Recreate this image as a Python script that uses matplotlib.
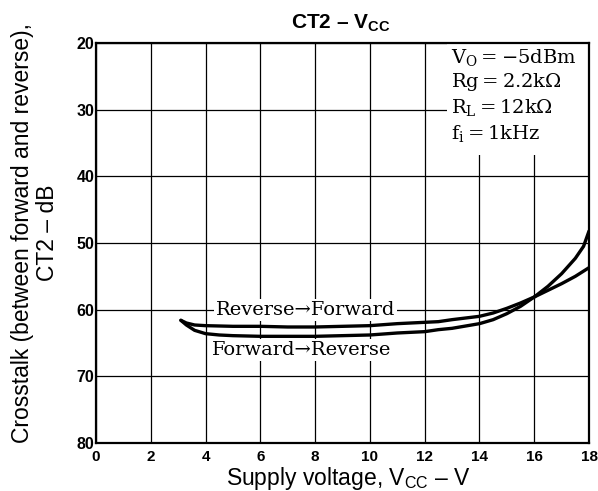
import matplotlib
matplotlib.use("Agg")
import matplotlib.pyplot as plt

plt.rcParams['font.family'] = ['Liberation Sans', 'DejaVu Sans']
plt.rcParams['mathtext.fontset'] = 'custom'
plt.rcParams['mathtext.rm'] = 'Liberation Sans'
plt.rcParams['mathtext.bf'] = 'Liberation Sans:bold'
plt.rcParams['mathtext.sf'] = 'DejaVu Serif'

# Supply voltage (V) and crosstalk (dB) for each direction
vcc_rev_fwd = [3.1, 3.3, 3.6, 4.0, 5, 6, 7, 8, 9, 10, 11, 12, 12.5, 13, 14,
               14.5, 15, 15.5, 16, 16.5, 17, 17.5, 18]
ct2_rev_fwd = [61.6, 62.0, 62.3, 62.4, 62.5, 62.5, 62.6, 62.6, 62.5, 62.4,
               62.1, 61.9, 61.8, 61.5, 61.0, 60.5, 59.8, 59.0, 58.1, 57.1,
               56.1, 55.0, 53.7]

vcc_fwd_rev = [3.1, 3.3, 3.6, 4.0, 4.5, 5, 6, 7, 8, 9, 10, 11, 12, 12.5, 13,
               14, 14.5, 15, 15.5, 16, 16.5, 17, 17.5, 17.8, 18]
ct2_fwd_rev = [61.6, 62.3, 63.1, 63.6, 63.8, 63.9, 64.0, 64.0, 64.0, 63.9,
               63.8, 63.5, 63.3, 63.0, 62.8, 62.1, 61.5, 60.6, 59.5, 58.1,
               56.5, 54.6, 52.3, 50.5, 48.2]

x_ticks = [0, 2, 4, 6, 8, 10, 12, 14, 16, 18]
y_ticks = [20, 30, 40, 50, 60, 70, 80]

conditions = [r'$\mathsf{V_O = -5dBm}$',
              r'$\mathsf{Rg = 2.2k\Omega}$',
              r'$\mathsf{R_L = 12k\Omega}$',
              r'$\mathsf{f_i = 1kHz}$']

fig = plt.figure(figsize=(5.98, 4.91), dpi=100)
ax = fig.add_axes([0.1605, 0.0978, 0.8245, 0.8146])

ax.set_xlim(0, 18)
ax.set_ylim(80, 20)
ax.set_xticks(x_ticks)
ax.set_yticks(y_ticks)
ax.set_xticklabels([str(v) for v in x_ticks], fontsize=11, fontweight='bold')
ax.set_yticklabels([str(v) for v in y_ticks], fontsize=11.5, fontweight='bold')
ax.tick_params(length=0)
ax.tick_params(axis='x', pad=5)
ax.tick_params(axis='y', pad=1)
ax.grid(True, color='black', linewidth=0.9)
ax.set_axisbelow(True)
for s in ax.spines.values():
    s.set_linewidth(1.6)
    s.set_color('black')

ax.plot(vcc_rev_fwd, ct2_rev_fwd, color='black', linewidth=2.4,
        solid_capstyle='round', solid_joinstyle='round')
ax.plot(vcc_fwd_rev, ct2_fwd_rev, color='black', linewidth=2.4,
        solid_capstyle='round', solid_joinstyle='round')

box = dict(facecolor='white', edgecolor='none', pad=1.5)
ax.text(7.65, 60.0, 'Reverse\u2192Forward', family='DejaVu Serif', fontsize=14,
        ha='center', va='center', bbox=box)
ax.text(7.5, 66.1, 'Forward\u2192Reverse', family='DejaVu Serif', fontsize=14,
        ha='center', va='center', bbox=box)

# Test conditions block in the upper-right corner
ax.add_patch(plt.Rectangle((12.8, 20.2), 5.2, 16.6, facecolor='white',
                           edgecolor='none', zorder=2))
for i, line in enumerate(conditions):
    ax.text(12.95, 22.1 + i * 3.8, line, fontsize=14, ha='left', va='center',
            zorder=3)

fig.text(0.57, 0.953, r'CT2 – V$_\mathbf{CC}$', fontsize=15, fontweight='bold',
         ha='center', va='center')
ax.set_xlabel(r'Supply voltage, V$_\mathregular{CC}$ – V', fontsize=16.5,
              labelpad=0)
ax.xaxis.set_label_coords(0.512, -0.055)
ax.xaxis.label.set_va('top')
ax.set_ylabel('Crosstalk (between forward and reverse),\nCT2 – dB',
              fontsize=16.5, linespacing=1.1)
ax.yaxis.set_label_coords(-0.075, 0.525)

fig.savefig('out.png', dpi=100)
